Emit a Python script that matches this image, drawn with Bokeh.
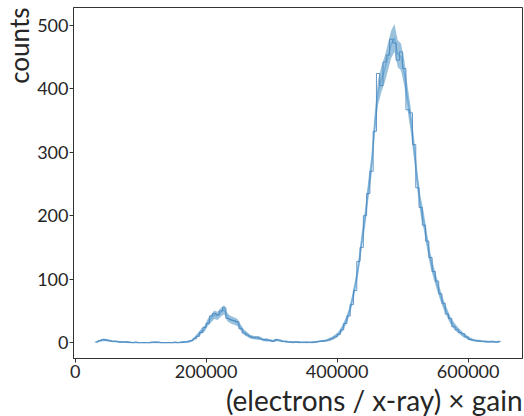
import numpy as np
from bokeh.plotting import figure
from bokeh.models import Title, FixedTicker, Range1d, ColumnDataSource, BasicTickFormatter
from bokeh.embed import file_html
from bokeh.resources import INLINE

# histogram: bin edges start at 30000 with width 5000
bin_start = 30000
bin_width = 5000
counts = [
    1, 3, 5, 4, 3, 2, 2, 1, 1, 1,
    0, 0, 1, 0, 0, 0, 0, 1, 0, 1,
    0, 0, 0, 0, 1, 0, 0, 1, 1, 3,
    6, 10, 16, 24, 30, 42, 46, 44, 50, 55,
    38, 36, 35, 33, 22, 15, 12, 10, 8, 9,
    6, 5, 3, 4, 2, 5, 4, 2, 1, 1,
    0, 1, 0, 1, 0, 1, 0, 1, 2, 2,
    3, 4, 6, 9, 13, 20, 30, 42, 60, 82,
    128, 150, 200, 235, 270, 333, 424, 405, 442, 453,
    478, 472, 445, 458, 432, 367, 362, 312, 244, 213,
    185, 160, 134, 112, 97, 77, 62, 45, 38, 25,
    20, 16, 14, 9, 5, 4, 3, 2, 2, 1,
    2, 1, 1, 2,
]
model = [
    1, 3, 4, 4, 3, 2, 2, 1, 1, 1,
    1, 0, 0, 0, 0, 0, 0, 0, 1, 0,
    0, 0, 0, 0, 0, 0, 1, 1, 2, 3,
    7, 12, 18, 22, 32, 38, 44, 42, 48, 52,
    40, 36, 34, 32, 24, 17, 13, 9, 8, 7,
    7, 4, 5, 3, 3, 4, 3, 2, 2, 1,
    1, 1, 1, 0, 1, 0, 1, 1, 2, 3,
    3, 5, 7, 10, 14, 22, 32, 45, 65, 90,
    120, 160, 195, 240, 280, 345, 395, 415, 430, 450,
    470, 480, 455, 450, 425, 385, 350, 305, 255, 215,
    190, 158, 130, 110, 92, 75, 60, 48, 36, 28,
    22, 17, 12, 9, 6, 4, 3, 3, 2, 2,
    1, 2, 1, 1,
]
x_ticks = [0, 200000, 400000, 600000]
y_ticks = [0, 100, 200, 300, 400, 500]

n = len(counts)
edges = bin_start + bin_width * np.arange(n + 1)
centers = edges[:-1] + bin_width / 2
m = np.array(model, dtype=float)
err = np.sqrt(m)

FONT = "Lato"
TXT = "#262626"

p = figure(width=524, height=416, output_backend="svg", toolbar_location=None,
           x_range=Range1d(-2600, 683000), y_range=Range1d(-25, 528),
           min_border_left=10, min_border_right=2, min_border_top=7, min_border_bottom=2)
p.background_fill_color = "white"
p.border_fill_color = "white"
p.outline_line_color = "#333333"
p.outline_line_width = 1
p.xgrid.visible = False
p.ygrid.visible = False

band = ColumnDataSource(dict(x=centers, lo=m - err, hi=m + err, y=m))
p.varea(x="x", y1="lo", y2="hi", source=band, fill_color="#1f77b4", fill_alpha=0.45)
p.line(x="x", y="y", source=band, line_color="#6aa8d8", line_width=1.3, line_alpha=0.9)

step_x = list(edges)
step_y = list(counts) + [counts[-1]]
p.step(x=step_x, y=step_y, mode="after", line_color="#4a86bd", line_width=1, line_alpha=0.85)

for ax in (p.xaxis[0], p.yaxis[0]):
    ax.major_label_text_font = FONT
    ax.major_label_text_font_size = "18px"
    ax.major_label_text_color = TXT
    ax.axis_line_color = "#333333"
    ax.major_tick_line_color = "#333333"
    ax.major_tick_out = 4
    ax.major_tick_in = 0
    ax.minor_tick_line_color = None

p.xaxis.major_label_standoff = 2
p.yaxis.major_label_standoff = 1

p.xaxis.ticker = FixedTicker(ticks=x_ticks)
p.yaxis.ticker = FixedTicker(ticks=y_ticks)
p.xaxis.formatter = BasicTickFormatter(use_scientific=False)
p.yaxis.formatter = BasicTickFormatter(use_scientific=False)

p.add_layout(Title(text="counts", align="right", text_font=FONT, text_font_size="26px",
                   text_font_style="normal", text_color=TXT, standoff=0), "left")
p.add_layout(Title(text="(electrons / x-ray) \u00d7 gain", align="right", text_font=FONT,
                   text_font_size="28px", text_font_style="normal", text_color=TXT, standoff=0), "below")

open("out.html", "w").write(file_html(p, INLINE))
